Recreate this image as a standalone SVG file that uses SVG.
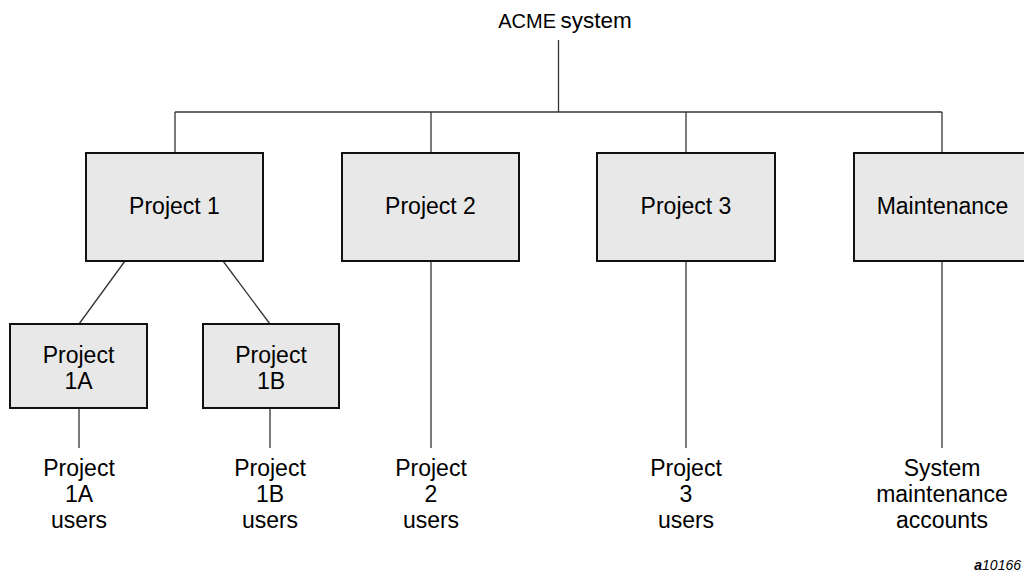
<svg xmlns="http://www.w3.org/2000/svg" width="1024" height="576" viewBox="0 0 1024 576">
<style>
.box{fill:#e8e8e8;stroke:#111;stroke-width:2}
.lbl{font-family:"Liberation Sans",Arial,sans-serif;font-size:23px;fill:#000;text-anchor:middle}
.sub{font-family:"Liberation Sans",Arial,sans-serif;font-size:23px;fill:#000;text-anchor:middle}
.con{stroke:#333;stroke-width:1.3;fill:none}
</style>
<rect width="1024" height="576" fill="#fff"/>
<g id="root">
<text x="565" y="28" font-family="Liberation Sans, Arial, sans-serif" text-anchor="middle"><tspan font-size="20">ACME</tspan> <tspan font-size="22.5">system</tspan></text>
</g>
<g id="connectors">
<line class="con" x1="558.5" y1="40" x2="558.5" y2="112"/>
<line class="con" x1="175" y1="112" x2="942" y2="112"/>
<line class="con" x1="175" y1="112" x2="175" y2="153"/>
<line class="con" x1="431" y1="112" x2="431" y2="153"/>
<line class="con" x1="686" y1="112" x2="686" y2="153"/>
<line class="con" x1="942" y1="112" x2="942" y2="153"/>
<line class="con" x1="125" y1="261" x2="79" y2="324"/>
<line class="con" x1="223" y1="261" x2="270" y2="324"/>
<line class="con" x1="79" y1="408" x2="79" y2="448"/>
<line class="con" x1="270" y1="408" x2="270" y2="448"/>
<line class="con" x1="431" y1="261" x2="431" y2="448"/>
<line class="con" x1="686" y1="261" x2="686" y2="448"/>
<line class="con" x1="942" y1="261" x2="942" y2="448"/>
</g>
<g id="project1">
<rect class="box" x="86" y="153" width="177" height="108"/>
<text class="lbl" x="174.5" y="214">Project 1</text>
</g>
<g id="project2">
<rect class="box" x="342" y="153" width="177" height="108"/>
<text class="lbl" x="430.5" y="214">Project 2</text>
</g>
<g id="project3">
<rect class="box" x="597" y="153" width="178" height="108"/>
<text class="lbl" x="686" y="214">Project 3</text>
</g>
<g id="maintenance">
<rect class="box" x="854" y="153" width="177" height="108"/>
<text class="lbl" x="942.5" y="214">Maintenance</text>
</g>
<g id="project1a">
<rect class="box" x="10" y="324" width="137" height="84"/>
<text class="lbl" x="78.5" y="363">Project</text>
<text class="lbl" x="78.5" y="389">1A</text>
</g>
<g id="project1b">
<rect class="box" x="203" y="324" width="136" height="84"/>
<text class="lbl" x="271" y="363">Project</text>
<text class="lbl" x="271" y="389">1B</text>
</g>
<g id="users1a">
<text class="sub" x="79" y="476">Project</text>
<text class="sub" x="79" y="502">1A</text>
<text class="sub" x="79" y="528">users</text>
</g>
<g id="users1b">
<text class="sub" x="270" y="476">Project</text>
<text class="sub" x="270" y="502">1B</text>
<text class="sub" x="270" y="528">users</text>
</g>
<g id="users2">
<text class="sub" x="431" y="476">Project</text>
<text class="sub" x="431" y="502">2</text>
<text class="sub" x="431" y="528">users</text>
</g>
<g id="users3">
<text class="sub" x="686" y="476">Project</text>
<text class="sub" x="686" y="502">3</text>
<text class="sub" x="686" y="528">users</text>
</g>
<g id="sysaccounts">
<text class="sub" x="942" y="476">System</text>
<text class="sub" x="942" y="502">maintenance</text>
<text class="sub" x="942" y="528">accounts</text>
</g>
<text x="1021" y="570" font-family="Liberation Sans, Arial, sans-serif" font-size="14" font-style="italic" text-anchor="end"><tspan font-weight="bold">a</tspan>10166</text>
</svg>
